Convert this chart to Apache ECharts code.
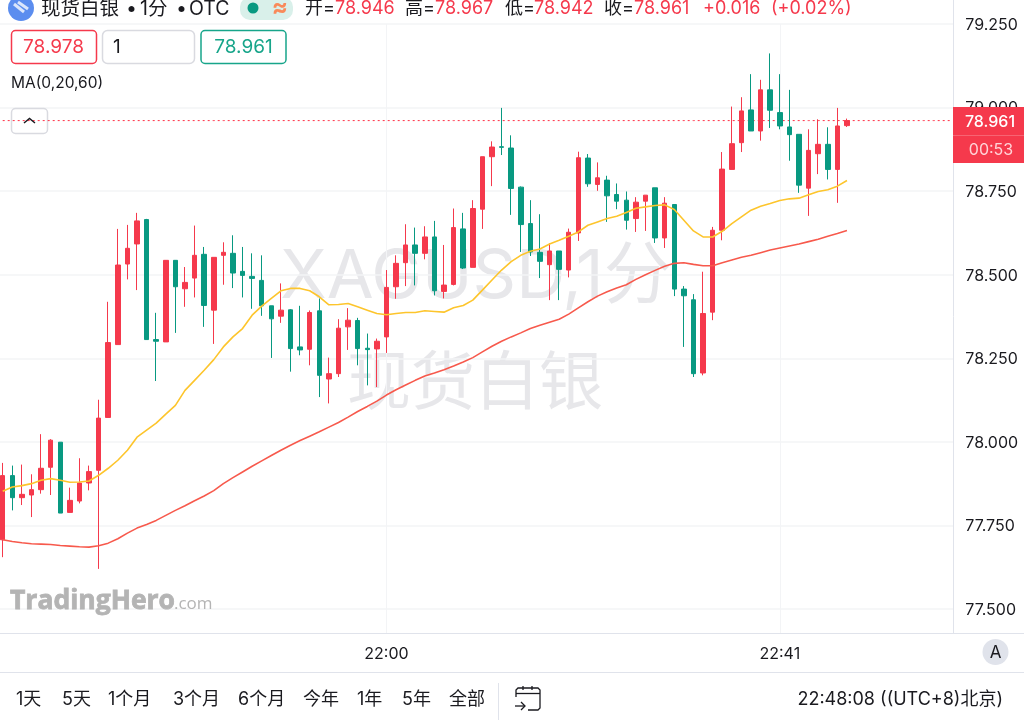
<!DOCTYPE html>
<html><head><meta charset="utf-8">
<style>html,body{margin:0;padding:0;background:#fff}#c{width:1024px;height:720px}</style>
<script src="https://cdn.jsdelivr.net/npm/echarts@6/dist/echarts.min.js"></script>
</head><body><div id="c"></div>
<script>
const categories=['21:20','21:21','21:22','21:23','21:24','21:25','21:26','21:27','21:28','21:29','21:30','21:31','21:32','21:33','21:34','21:35','21:36','21:37','21:38','21:39','21:40','21:41','21:42','21:43','21:44','21:45','21:46','21:47','21:48','21:49','21:50','21:51','21:52','21:53','21:54','21:55','21:56','21:57','21:58','21:59','22:00','22:01','22:02','22:03','22:04','22:05','22:06','22:07','22:08','22:09','22:10','22:11','22:12','22:13','22:14','22:15','22:16','22:17','22:18','22:19','22:20','22:21','22:22','22:23','22:24','22:25','22:26','22:27','22:28','22:29','22:30','22:31','22:32','22:33','22:34','22:35','22:36','22:37','22:38','22:39','22:40','22:41','22:42','22:43','22:44','22:45','22:46','22:47','22:48'];
const timeTicks=['22:00','22:41'];
const priceTicks=[77.5,79.25];
const opens=[77.707,77.899,77.833,77.841,77.857,77.924,77.999,77.789,77.823,77.877,77.915,78.073,78.291,78.532,78.592,78.665,78.306,78.299,78.543,78.458,78.49,78.561,78.394,78.558,78.564,78.51,78.495,78.483,78.407,78.376,78.395,78.284,78.277,78.392,78.188,78.204,78.344,78.363,78.28,78.278,78.314,78.464,78.536,78.589,78.564,78.613,78.45,78.471,78.637,78.522,78.696,78.853,78.883,78.879,78.762,78.653,78.567,78.53,78.571,78.514,78.625,78.849,78.77,78.783,78.74,78.723,78.668,78.72,78.76,78.61,78.71,78.457,78.425,78.206,78.388,78.633,78.815,78.895,78.993,78.93,79.053,78.985,78.942,78.92,78.759,78.862,78.89,78.815,78.946];
const closes=[77.899,77.833,77.843,77.857,77.921,78.005,77.787,77.825,77.877,77.911,78.071,78.297,78.529,78.579,78.661,78.306,78.301,78.543,78.464,78.477,78.558,78.408,78.552,78.567,78.505,78.498,78.489,78.407,78.368,78.394,78.279,78.275,78.387,78.199,78.204,78.34,78.364,78.279,78.276,78.301,78.462,78.534,78.589,78.564,78.613,78.452,78.469,78.641,78.52,78.698,78.853,78.882,78.881,78.758,78.65,78.568,78.54,78.571,78.516,78.627,78.85,78.772,78.79,78.736,78.72,78.663,78.717,78.738,78.61,78.714,78.457,78.437,78.204,78.384,78.633,78.816,78.892,78.99,78.93,79.053,78.992,78.945,78.919,78.768,78.872,78.89,78.815,78.945,78.961];
const lows=[77.655,77.795,77.811,77.775,77.845,77.841,77.787,77.789,77.816,77.855,77.62,78.073,78.291,78.486,78.454,78.306,78.182,78.299,78.326,78.404,78.432,78.344,78.293,78.47,78.46,78.432,78.398,78.377,78.251,78.356,78.21,78.259,78.229,78.134,78.115,78.194,78.275,78.229,78.169,78.164,78.266,78.428,78.466,78.468,78.546,78.438,78.429,78.468,78.517,78.522,78.637,78.765,78.858,78.679,78.568,78.556,78.49,78.424,78.424,78.492,78.601,78.763,78.751,78.658,78.696,78.635,78.628,78.631,78.595,78.58,78.436,78.284,78.194,78.199,78.364,78.603,78.815,78.867,78.93,78.901,78.939,78.935,78.841,78.745,78.676,78.801,78.785,78.715,78.942];
const highs=[77.937,77.929,77.932,77.903,78.023,78.008,77.999,77.863,77.951,77.929,78.126,78.419,78.637,78.649,78.685,78.667,78.386,78.544,78.544,78.523,78.647,78.583,78.552,78.597,78.618,78.583,78.564,78.558,78.407,78.474,78.397,78.407,78.393,78.429,78.252,78.367,78.4,78.371,78.324,78.309,78.514,78.558,78.651,78.641,78.645,78.661,78.589,78.698,78.685,78.723,78.853,78.899,78.999,78.917,78.764,78.723,78.681,78.594,78.571,78.638,78.868,78.861,78.836,78.796,78.773,78.749,78.732,78.738,78.76,78.732,78.71,78.466,78.442,78.509,78.643,78.867,79.003,79.031,79.1,79.083,79.162,79.1,79.053,78.92,78.935,78.965,78.941,78.999,78.967];
const ma20=[77.852,77.865,77.869,77.875,77.885,77.89,77.885,77.879,77.88,77.883,77.9,77.921,77.945,77.975,78.014,78.035,78.056,78.083,78.109,78.154,78.184,78.214,78.246,78.284,78.314,78.339,78.379,78.406,78.429,78.452,78.459,78.459,78.452,78.434,78.41,78.411,78.414,78.404,78.394,78.384,78.38,78.384,78.387,78.387,78.392,78.39,78.388,78.401,78.408,78.424,78.454,78.484,78.514,78.539,78.558,78.57,78.577,78.592,78.603,78.615,78.628,78.648,78.658,78.668,78.675,78.686,78.699,78.703,78.707,78.709,78.695,78.663,78.631,78.613,78.613,78.63,78.653,78.673,78.693,78.705,78.713,78.722,78.727,78.729,78.739,78.749,78.754,78.765,78.782];
const ma60=[77.707,77.702,77.698,77.695,77.694,77.693,77.69,77.688,77.686,77.685,77.689,77.697,77.71,77.727,77.742,77.753,77.765,77.78,77.795,77.809,77.824,77.838,77.854,77.875,77.893,77.91,77.927,77.943,77.959,77.975,77.99,78.004,78.017,78.03,78.044,78.058,78.074,78.091,78.106,78.122,78.14,78.156,78.17,78.184,78.197,78.206,78.216,78.227,78.239,78.252,78.269,78.286,78.301,78.314,78.326,78.339,78.349,78.358,78.367,78.382,78.401,78.419,78.436,78.449,78.46,78.47,78.486,78.5,78.513,78.525,78.534,78.536,78.531,78.527,78.527,78.536,78.544,78.552,78.558,78.566,78.574,78.58,78.586,78.592,78.599,78.606,78.615,78.623,78.632];
const lastPrice=78.961;

const RED='#F5394C',GREEN='#089981',INK='#1a1a1f',FONT='Inter,"Noto Sans CJK SC",sans-serif',GRID='#f3f4f6',EDGE='#e0e3eb';
const axisCats=categories.concat(Array(11).fill(''));
const isTick=(i,v)=>timeTicks.includes(v);
const T=(x,y,text,fill,size,extra,weight)=>({type:'text',z:20,silent:true,x,y,style:Object.assign({text,fill:fill||INK,font:(weight?weight+' ':'')+(size||18)+'px '+FONT,textVerticalAlign:'middle'},extra||{})});
const L=(x1,y1,x2,y2,stroke,lw,z)=>({type:'line',z:z||20,silent:true,shape:{x1,y1,x2,y2},style:{stroke,lineWidth:lw||1}});
const R=(x,y,w,h,fill,stroke,r,z)=>({type:'rect',z:z||20,silent:true,shape:{x,y,width:w,height:h,r:r||0},style:{fill:fill||'#fff',stroke:stroke||null,lineWidth:stroke?1.5:0}});
const P=(points,lw)=>({type:'polyline',z:20,silent:true,shape:{points},style:{stroke:INK,fill:null,lineWidth:lw||1.3}});

const graphics=[
 // watermark
 {type:'text',z:0,silent:true,x:476,y:278,style:{text:'XAGUSD,1分',fill:'#e7e7ea',font:'68px '+FONT,textAlign:'center',textVerticalAlign:'middle'}},
 {type:'text',z:0,silent:true,x:475,y:380,style:{text:'现货白银',fill:'#e7e7ea',font:'64px "Noto Sans CJK SC",sans-serif',textAlign:'center',textVerticalAlign:'middle'}},
 {type:'text',z:3,silent:true,x:10,y:601,style:{text:'TradingHero',fill:'#b4b4b4',stroke:'#b4b4b4',lineWidth:0.8,font:'bold 26.5px "Open Sans",sans-serif',textVerticalAlign:'middle'}},
 {type:'text',z:3,silent:true,x:174,y:604,style:{text:'.com',fill:'#b4b4b4',font:'17px "Open Sans",sans-serif',textVerticalAlign:'middle'}},
 // frame
 R(953,0,6,633,'#fff',null,0,8),
 L(953.5,0,953.5,633,EDGE),
 L(0,633.5,1024,633.5,EDGE),
 L(0,672.5,1024,672.5,EDGE),
 L(498.5,683,498.5,720,EDGE),
 // header
 {type:'circle',z:20,silent:true,shape:{cx:21,cy:8,r:13},style:{fill:'#5b8def'}},
 L(14,4,24,12,'#dbe6fb',3),L(18,2,28,9,'#dbe6fb',3),
 T(41,9,'现货白银',INK,19.5),T(126,9,'•',INK,19.5),T(140,9,'1分',INK,19.5),T(176,9,'•',INK,19.5),T(189,9,'OTC',INK,19.5),
 R(240,-3,53,23,'#d9f0ea',null,10),
 {type:'circle',z:21,silent:true,shape:{cx:253,cy:8,r:5.5},style:{fill:GREEN}},
 T(280,8,'≈','#f98a5a',24,{textAlign:'center'},'bold'),
 T(305,9,'开=',INK),T(335,9,'78.946',RED),
 T(405,9,'高=',INK),T(435,9,'78.967',RED),
 T(505,9,'低=',INK),T(534,9,'78.942',RED),
 T(604,9,'收=',INK),T(634,9,'78.961',RED),
 T(703,9,'+0.016',RED),T(771,9,'(+0.02%)',RED),
 // order boxes
 R(11.5,30.5,85,33,'#fff',RED,4),T(53.5,47.5,'78.978',RED,19,{textAlign:'center'}),
 R(102.5,30.5,92,33,'#fff','#d9dae0',5),T(113,47.5,'1',INK,19),
 R(201,30.5,85,33,'#fff','#17a58a',4),T(243.5,47.5,'78.961','#17a58a',19,{textAlign:'center'}),
 T(11,83,'MA(0,20,60)',INK,15.5),
 R(11.5,108.5,36,25,'#fff','#d9dae0',4,2),
 {type:'polyline',z:3,silent:true,shape:{points:[[24,123],[29.5,118.5],[35,123]]},style:{stroke:INK,fill:null,lineWidth:1.5}},
 // price tag
 R(953,107,71,56,RED,null,0),
 L(953,135.5,1024,135.5,'#f76473',1,21),
 T(990,122,'78.961','#fff',16,{textAlign:'center'},500),
 T(991,150,'00:53','#ffd3d7',16,{textAlign:'center'}),
 // bottom
 {type:'circle',z:20,silent:true,shape:{cx:995.5,cy:652,r:13},style:{fill:'#e0e3eb'}},
 T(995.5,653,'A',INK,17,{textAlign:'center'}),
 T(16,700,'1天',INK,18),T(62,700,'5天',INK,18),T(108,700,'1个月',INK,18),T(173,700,'3个月',INK,18),T(238,700,'6个月',INK,18),T(303,700,'今年',INK,18),T(357,700,'1年',INK,18),T(402,700,'5年',INK,18),T(449,700,'全部',INK,18),
 P([[516,697],[516,690],[518,688],[538,688],[540,690],[540,708],[538,710],[528,710]]),
 L(516,693.5,540,693.5,INK,1.3),L(523,686,523,690,INK,1.3),L(532,686,532,690,INK,1.3),
 L(515,706,525,706,INK,1.3),
 P([[521,702],[525,706],[521,710]]),
 T(1003,700,'22:48:08 ((UTC+8)北京)',INK,18,{textAlign:'right'})
];

const chart=echarts.init(document.getElementById('c'),null,{renderer:'canvas'});
chart.setOption({
 animation:false,
 backgroundColor:'#fff',
 textStyle:{fontFamily:FONT},
 grid:[{left:-2.1,top:24,width:959.4,height:585,outerBoundsMode:'none'},{left:-2.1,top:609,width:959.4,height:24,outerBoundsMode:'none'}],
 xAxis:[
  {type:'category',gridIndex:0,data:axisCats,boundaryGap:true,axisLine:{show:false},axisTick:{show:false},axisLabel:{show:false},
   splitLine:{show:true,interval:isTick,alignWithLabel:true,lineStyle:{color:GRID,width:1}}},
  {type:'category',gridIndex:1,data:axisCats,boundaryGap:true,axisLine:{show:false},axisTick:{show:false},
   axisLabel:{interval:isTick,margin:13,color:INK,fontSize:16,fontFamily:FONT},
   splitLine:{show:true,interval:isTick,alignWithLabel:true,lineStyle:{color:GRID,width:1}}}
 ],
 yAxis:[
  {type:'value',gridIndex:0,position:'right',min:priceTicks[0],max:priceTicks[1],interval:0.25,scale:true,
   axisLine:{show:false},axisTick:{show:false},
   axisLabel:{margin:8,color:INK,fontSize:16,fontFamily:FONT,verticalAlign:'top',lineHeight:16,padding:[-7,0,0,0],formatter:v=>v.toFixed(3)},
   splitLine:{show:true,lineStyle:{color:GRID,width:1.5}}},
  {type:'value',gridIndex:1,show:false,min:0,max:1}
 ],
 series:[
  {type:'line',name:'Last',data:axisCats.map(()=>lastPrice),xAxisIndex:0,yAxisIndex:0,symbol:'none',z:2,silent:true,
   itemStyle:{color:'#ff2f45'},lineStyle:{color:'#ff2f45',type:[2,3],width:1,opacity:1}},
  {type:'line',name:'MA20',data:ma20,xAxisIndex:0,yAxisIndex:0,symbol:'none',z:4,lineStyle:{color:'#FDC52C',width:1.6}},
  {type:'line',name:'MA60',data:ma60,xAxisIndex:0,yAxisIndex:0,symbol:'none',z:4,lineStyle:{color:'#F7594C',width:1.6}},
  {type:'candlestick',name:'XAGUSD',xAxisIndex:0,yAxisIndex:0,z:3,barWidth:5,
   data:categories.map((c,i)=>[opens[i],closes[i],lows[i],highs[i]]),
   itemStyle:{color:RED,color0:GREEN,borderColor:RED,borderColor0:GREEN,borderWidth:1}}
 ],
 graphic:{elements:graphics}
});
</script></body></html>
